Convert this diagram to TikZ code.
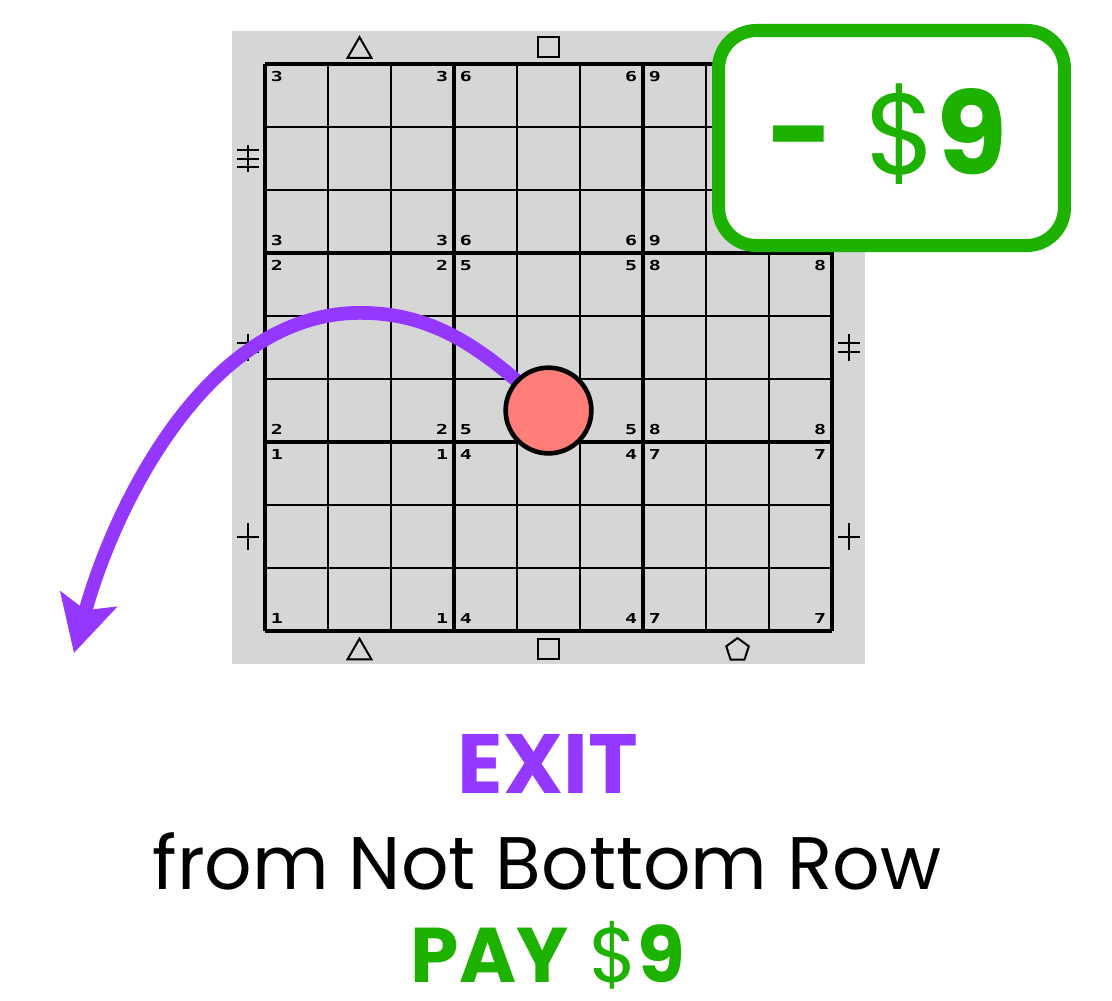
\documentclass[tikz,border=0pt]{standalone}
\usepackage{fontspec}
\setmainfont{Poppins}
\newfontfamily\digitfont{DejaVu Sans Mono}
\usetikzlibrary{arrows.meta,shapes.geometric}
\definecolor{grape}{HTML}{9437FF}
\definecolor{salmon}{HTML}{FF7E79}
\definecolor{cashgreen}{RGB}{29,177,0}
\definecolor{boardgray}{HTML}{D6D6D6}
\newcommand{\cornernum}[1]{\scalebox{1.45}[1]{\digitfont\bfseries #1}}
\tikzset{
  cornerlbl/.style={font=\fontsize{6.2}{7}\selectfont, inner sep=0pt},
  sidemark/.style={draw, line width=0.9pt, inner sep=0pt}
}
\begin{document}
\begin{tikzpicture}
\useasboundingbox (-4.206,-5.857) rectangle (13.444,10.016);
% board
\fill[boardgray] (-0.52,-0.52) rectangle (9.52,9.52);
\draw[line width=0.5pt] (0,0) grid (9,9);
\draw[line width=1.4pt, step=3] (0,0) grid (9,9);
% block numbers in the corners
\foreach \bx in {0,1,2} {
  \foreach \by in {0,1,2} {
    \pgfmathtruncatemacro\n{3*\bx+\by+1}
    \node[cornerlbl] (n\n tl) at ({3*\bx+0.19},{3*\by+2.8}) {\cornernum{\n}};
    \node[cornerlbl] (n\n tr) at ({3*\bx+2.81},{3*\by+2.8}) {\cornernum{\n}};
    \node[cornerlbl] (n\n bl) at ({3*\bx+0.19},{3*\by+0.2}) {\cornernum{\n}};
    \node[cornerlbl] (n\n br) at ({3*\bx+2.81},{3*\by+0.2}) {\cornernum{\n}};
  }
}
% column marks
\foreach \y/\s in {9.206/top,-0.341/bot} {
  \node[sidemark, regular polygon, regular polygon sides=3, minimum size=0.44cm] (tri\s) at (1.5,\y) {};
}
\node[sidemark, minimum size=0.32cm] (sqtop) at (4.5,9.27) {};
\node[sidemark, minimum size=0.32cm] (sqbot) at (4.5,-0.286) {};
\node[sidemark, regular polygon, regular polygon sides=5, minimum size=0.376cm] (penttop) at (7.5,9.254) {};
\node[sidemark, regular polygon, regular polygon sides=5, minimum size=0.376cm] (pentbot) at (7.5,-0.30) {};
% row marks
\foreach \row/\bars in {0/1,1/2,2/3} {
  \foreach \side in {-0.27,9.27} {
    \draw[line width=0.9pt] ({\side},{3*\row+1.5-0.215}) -- ++(0,0.43);
    \foreach \k in {1,...,\bars} {
      \draw[line width=0.9pt] ({\side-0.18},{3*\row+1.5+(\k-(\bars+1)/2)*0.135}) -- ++(0.36,0);
    }
  }
}
% exit move
\coordinate (tokenc) at (4.5,3.5);
\coordinate (exitpt) at (-3.032,-0.349);
\draw[grape, line width=6.2pt, -{Stealth[length=25pt, width=26pt, inset=5pt]}]
  (tokenc) .. controls (3.3,4.7) and (2.46,5.05) .. (1.51,5.05)
  .. controls (-0.95,5.05) and (-2.42,1.9) .. (exitpt);
\node[circle, draw, fill=salmon, line width=2.1pt, minimum size=1.36cm, inner sep=0pt] (token) at (tokenc) {};
% fee badge
\node[draw=cashgreen, fill=white, line width=5.9pt, rounded corners=0.6cm,
  minimum width=5.49cm, minimum height=3.413cm] (fee) at (9.944,7.825) {};
\node[anchor=base, text=cashgreen, font=\fontsize{52}{56}\selectfont] (feetext) at (9.88,7.254)
  {\textbf{-} \$\textbf{9}};
% caption
\node[anchor=base, text=grape, font=\fontsize{38}{42}\selectfont\bfseries] (exit) at (4.49,-2.571) {EXIT};
\node[anchor=base, font=\fontsize{33.6}{38}\selectfont] (rule) at (4.476,-4.11) {from Not Bottom Row};
\node[anchor=base, text=cashgreen, inner sep=0pt, font=\fontsize{35}{40}\selectfont] (pay) at (4.49,-5.58) {\textbf{PAY} \smash{\$}\textbf{9}};
\end{tikzpicture}
\end{document}
